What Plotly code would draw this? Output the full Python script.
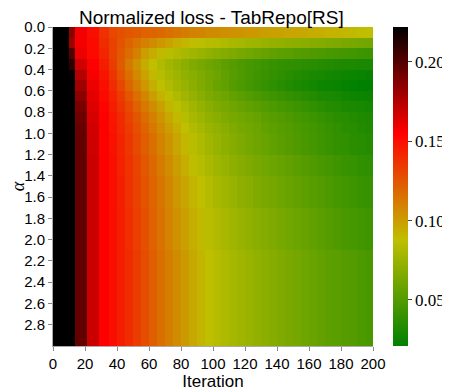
import plotly.graph_objects as go

# Iteration bin edges (columns) and alpha bin edges (rows).
iter_edges = [0, 10, 14, 21, 29, 35, 40, 45, 50, 55, 60, 65, 70, 75, 80, 85, 90, 95, 100,
              105, 110, 115, 120, 125, 130, 135, 140, 145, 150, 155, 160, 165, 170, 175,
              180, 185, 190, 195, 200]
alpha_edges = [round(0.1 * i, 1) for i in range(31)]

# Normalized loss per alpha row (one value per column bin).
row_00 = [.25, .185, .158, .150, .138,
          .130, .127, .125, .123, .121, .120, .118, .116, .114, .112, .110, .109, .107,
          .106, .105, .104, .103, .102, .101, .100, .099, .098, .097, .097, .096, .095,
          .094, .093, .092, .091, .090, .089, .088]
row_01 = [.25, .180, .158, .152, .140,
          .132, .126, .120, .115, .110, .106, .102, .098, .094, .091, .089, .087, .085,
          .084, .082, .080, .079, .077, .076, .074, .073, .072, .071, .070, .069, .068,
          .067, .066, .065, .064, .063, .062, .061]
row_02 = [.25, .200, .160, .152, .142,
          .132, .124, .117, .110, .100, .095, .090, .086, .083, .080, .077, .075, .072,
          .069, .067, .065, .063, .061, .059, .057, .055, .054, .053, .051, .050, .049,
          .048, .047, .046, .045, .044, .043, .042]
row_03 = [.25, .210, .168, .155, .145,
          .134, .123, .113, .104, .095, .088, .083, .078, .074, .070, .066, .063, .060,
          .057, .054, .051, .048, .046, .044, .042, .040, .039, .038, .037, .036, .035,
          .034, .033, .032, .031, .031, .030, .030]
row_04 = [.25, .220, .175, .157, .148,
          .137, .126, .116, .107, .098, .090, .085, .080, .076, .072, .069, .066, .062,
          .059, .055, .052, .049, .046, .043, .041, .039, .037, .035, .033, .032, .030,
          .029, .028, .027, .026, .025, .024, .023]
row_05 = [.25, .230, .180, .160, .150,
          .140, .130, .120, .111, .102, .094, .088, .083, .078, .074, .070, .066, .062,
          .058, .055, .051, .048, .045, .042, .040, .037, .035, .033, .031, .029, .028,
          .026, .025, .024, .023, .022, .021, .021]
row_06 = [.25, .240, .185, .162, .152,
          .143, .134, .125, .116, .108, .100, .093, .087, .082, .077, .073, .069, .065,
          .062, .059, .056, .053, .050, .048, .045, .043, .041, .039, .037, .035, .033,
          .031, .030, .029, .027, .026, .025, .024]
row_07 = [.25, .250, .190, .164, .154,
          .145, .137, .129, .121, .113, .106, .099, .092, .087, .082, .077, .073, .069,
          .066, .063, .060, .057, .055, .053, .050, .048, .046, .044, .042, .040, .038,
          .036, .034, .033, .031, .030, .029, .028]
row_08 = [.25, .250, .193, .166, .155,
          .147, .140, .132, .125, .117, .110, .103, .096, .090, .085, .080, .076, .072,
          .069, .066, .063, .061, .059, .057, .054, .052, .050, .048, .046, .044, .042,
          .040, .038, .036, .035, .033, .032, .031]
row_09 = [.25, .250, .195, .167, .155,
          .148, .141, .134, .127, .120, .113, .106, .100, .094, .088, .083, .079, .075,
          .072, .069, .066, .063, .061, .059, .056, .054, .052, .050, .048, .046, .044,
          .042, .040, .038, .036, .035, .033, .032]
row_10 = [.25, .250, .196, .168, .155,
          .149, .142, .136, .129, .122, .116, .109, .103, .097, .091, .086, .082, .078,
          .074, .071, .068, .065, .062, .060, .058, .055, .053, .051, .049, .047, .045,
          .043, .041, .039, .038, .036, .035, .034]
row_12 = [.25, .250, .196, .169, .155,
          .150, .143, .137, .131, .124, .118, .112, .106, .100, .094, .089, .085, .081,
          .077, .074, .071, .068, .066, .063, .061, .059, .057, .055, .053, .051, .049,
          .047, .045, .043, .041, .040, .038, .037]
row_14 = [.25, .250, .196, .169, .155,
          .150, .144, .138, .132, .126, .120, .114, .108, .102, .097, .092, .088, .084,
          .080, .077, .074, .071, .069, .066, .064, .062, .060, .058, .056, .054, .052,
          .050, .048, .046, .044, .043, .041, .040]
row_17 = [.25, .250, .196, .169, .155,
          .150, .145, .139, .133, .127, .121, .115, .109, .104, .099, .094, .090, .086,
          .083, .080, .077, .074, .072, .069, .067, .065, .063, .061, .059, .057, .055,
          .053, .051, .049, .047, .046, .044, .043]
row_21 = [.25, .250, .196, .169, .155,
          .150, .145, .140, .134, .128, .122, .116, .111, .106, .101, .096, .092, .088,
          .085, .082, .079, .077, .075, .072, .070, .068, .066, .064, .062, .060, .058,
          .056, .054, .053, .051, .050, .048, .047]

loss = [row_00, row_01, row_02, row_03, row_04, row_05, row_06, row_07, row_08, row_09,
        row_10, row_10, row_12, row_12, row_14, row_14, row_14, row_17, row_17, row_17,
        row_17, row_21, row_21, row_21, row_21, row_21, row_21, row_21, row_21, row_21]

zmin, zmax = 0.021, 0.222
x_ticks = list(range(0, 201, 20))
y_ticks = [round(0.2 * i, 1) for i in range(15)]
cbar_ticks = [0.05, 0.10, 0.15, 0.20]

# green -> yellow -> red -> black, like the matplotlib colormap
cmap = [[0.0, "rgb(0,128,0)"], [1 / 3, "rgb(191,191,0)"],
        [2 / 3, "rgb(255,0,0)"], [1.0, "rgb(0,0,0)"]]

fig = go.Figure()
fig.add_trace(go.Heatmap(
    x=iter_edges, y=alpha_edges, z=loss,
    zmin=zmin, zmax=zmax, colorscale=cmap,
    colorbar=dict(
        thickness=15, len=1, lenmode="fraction", y=0.5, yanchor="middle",
        x=1.0625, xanchor="left", xpad=0, ypad=0, outlinewidth=0,
        tickvals=cbar_ticks, ticktext=["0.05", "0.10", "0.15", "0.20"],
        ticks="outside", ticklen=4, tickcolor="#444",
        tickfont=dict(family="Liberation Serif", size=17, color="black"),
    ),
))

# the page body adds an 8px margin, so the figure is a bit smaller than the window
fig.update_layout(
    width=442, height=384,
    margin=dict(l=45, r=77, t=19, b=46, autoexpand=False),
    paper_bgcolor="white", plot_bgcolor="white",
    font=dict(family="Liberation Sans", size=15, color="black"),
    title=dict(text="Normalized loss - TabRepo[RS]", x=0.46, xanchor="center",
               y=0.975, yanchor="middle", font=dict(size=19)),
    xaxis=dict(
        range=[0, 200], tickvals=x_ticks, ticks="outside", ticklen=4, automargin=False,
        tickcolor="#888", showline=True, linecolor="#aaa", showgrid=False,
        zeroline=False, title=dict(text="Iteration", standoff=2, font=dict(size=17)),
    ),
    yaxis=dict(
        range=[3, 0], tickvals=y_ticks, ticktext=[f"{v:.1f}" for v in y_ticks],
        ticks="outside", ticklen=4, tickcolor="#888", showline=True, linecolor="#aaa",
        showgrid=False, zeroline=False, automargin=False,
        title=dict(text="<i>α</i>", standoff=6,
                   font=dict(family="Liberation Serif", size=18)),
    ),
)

fig.write_html("out.html")
